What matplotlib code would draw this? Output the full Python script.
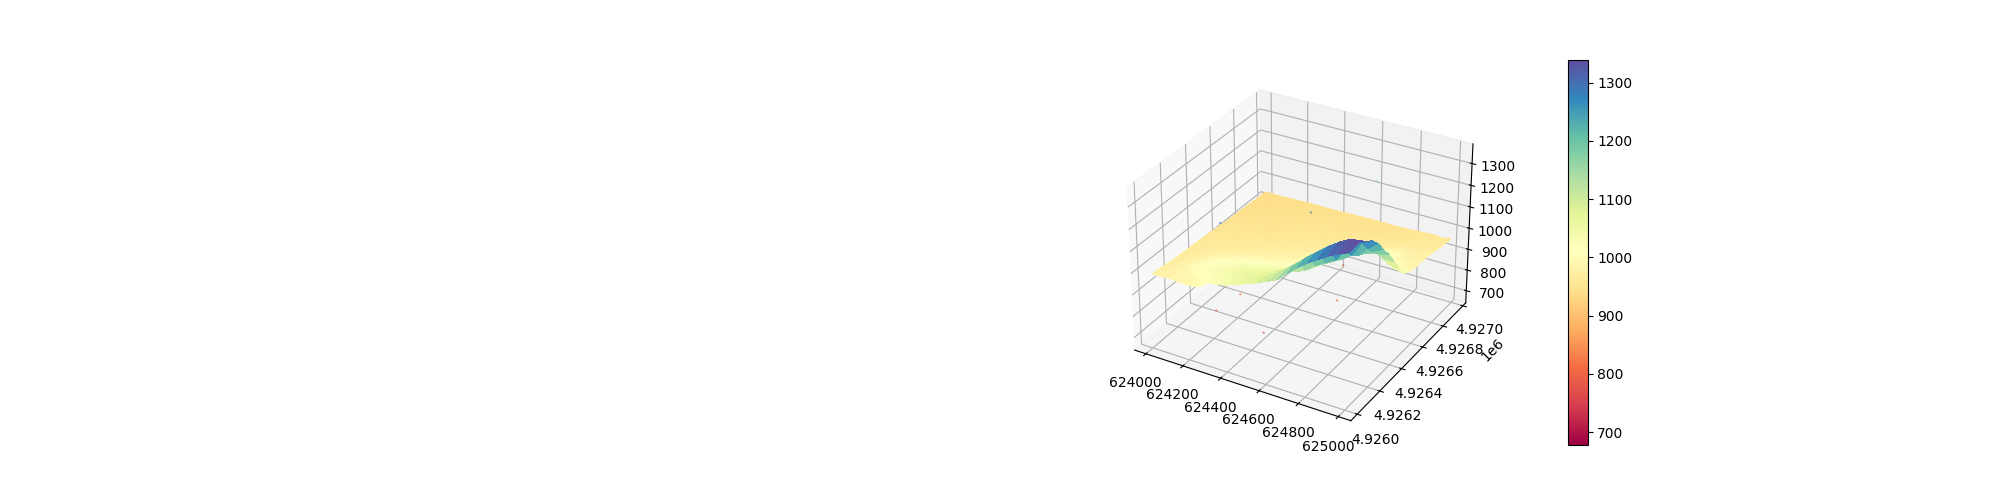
import numpy as np
import matplotlib
matplotlib.use('Agg')
import matplotlib.pyplot as plt

x_values = list(range(624000, 625001, 50))
y_values = list(range(4926020, 4926971, 50))
elevation = [
    [980, 980, 985, 978, 978, 988, 1018, 1022, 1035, 1052, 1068, 1085, 1105, 1125, 1167, 1205, 1238, 1267, 1295, 1317, 1335],
    [977, 981, 987, 993, 1003, 1015, 1027, 1038, 1050, 1060, 1070, 1082, 1100, 1130, 1175, 1215, 1250, 1280, 1310, 1330, 1340],
    [973, 978, 985, 996, 1010, 1020, 1030, 1040, 1048, 1055, 1062, 1075, 1100, 1135, 1170, 1210, 1245, 1280, 1310, 1335, 1340],
    [970, 975, 985, 996, 1008, 1016, 1024, 1032, 1040, 1046, 1052, 1066, 1085, 1090, 1110, 1145, 1170, 1195, 1250, 1300, 1315],
    [967, 971, 979, 990, 1000, 1008, 1015, 1022, 1028, 1033, 1040, 1050, 1063, 1075, 1095, 1125, 1150, 1175, 1205, 1275, 1295],
    [965, 968, 974, 982, 990, 997, 1003, 1009, 1014, 1019, 1024, 1033, 1043, 1060, 1090, 1120, 1145, 1170, 1180, 1225, 1260],
    [963, 965, 969, 975, 980, 985, 991, 996, 1002, 1005, 1010, 1018, 1027, 1043, 1085, 1115, 1135, 1160, 1165, 1190, 1210],
    [961, 963, 965, 969, 973, 977, 981, 985, 989, 993, 997, 1005, 1013, 1027, 1070, 1102, 1128, 1150, 1145, 1155, 1165],
    [959, 960, 963, 965, 967, 970, 975, 979, 983, 985, 989, 995, 1001, 1013, 1050, 1088, 1109, 1131, 1130, 1110, 1110],
    [957, 958, 960, 962, 963, 965, 969, 973, 975, 979, 981, 987, 991, 1000, 1030, 1069, 1090, 1115, 1090, 1060, 1050],
    [955, 956, 957, 958, 960, 962, 965, 967, 970, 973, 975, 980, 983, 990, 1015, 1048, 1072, 1075, 1055, 1018, 1010],
    [953, 953, 954, 955, 957, 959, 961, 963, 965, 967, 969, 973, 975, 980, 1000, 1030, 1050, 1045, 1025, 998, 995],
    [950, 951, 952, 953, 955, 956, 958, 960, 961, 963, 965, 967, 969, 973, 985, 1013, 1026, 1020, 1000, 988, 990],
    [948, 949, 950, 951, 952, 953, 955, 957, 958, 960, 961, 963, 965, 967, 975, 985, 995, 1000, 995, 982, 988],
    [947, 947, 948, 949, 950, 951, 953, 955, 955, 957, 958, 960, 961, 963, 966, 972, 978, 982, 985, 978, 986],
    [945, 945, 946, 947, 948, 949, 950, 952, 953, 954, 955, 957, 958, 959, 960, 964, 968, 972, 976, 974, 982],
    [943, 943, 944, 945, 946, 947, 948, 949, 950, 951, 952, 953, 955, 956, 956, 958, 962, 966, 970, 968, 975],
    [941, 941, 942, 943, 944, 945, 946, 947, 948, 949, 950, 951, 952, 953, 952, 954, 958, 962, 966, 964, 970],
    [940, 940, 941, 942, 943, 944, 945, 945, 946, 947, 948, 949, 950, 951, 950, 952, 955, 958, 962, 960, 965],
    [939, 939, 940, 941, 942, 943, 944, 944, 945, 946, 947, 948, 949, 950, 948, 950, 952, 955, 958, 955, 960],
]
outlier_x = [624235, 624256, 624481, 624667, 624538, 624341, 624655, 624640]
outlier_y = [4926170, 4926338, 4926176, 4926507, 4926787, 4926058, 4926293, 4926912]
outlier_z = [800, 800, 760, 800, 800, 1280, 1300, 1170]

vmin, vmax = 678, 1339

fig = plt.figure(figsize=(20, 5), dpi=100)
ax = fig.add_axes([0.4990, 0.11, 0.3, 0.77], projection='3d')
ax.computed_zorder = False
X, Y = np.meshgrid(x_values, y_values)
Z = np.array(elevation, dtype=float)
ax.plot_surface(X, Y, Z, cmap='Spectral', vmin=vmin, vmax=vmax, linewidth=0,
                antialiased=False, shade=False, rcount=len(y_values), ccount=len(x_values), zorder=1)
ax.scatter(outlier_x, outlier_y, outlier_z, c=outlier_z, cmap='Spectral', vmin=vmin, vmax=vmax,
           s=3, alpha=0.6, linewidths=0, zorder=2)
ax.set_xlim(623938, 625062)
ax.set_ylim(4925945, 4927030)
ax.set_zlim(640.5, 1389.5)
ax.set_xticks(range(624000, 625001, 200))
ax.set_yticks(range(4926000, 4927001, 200))
ax.set_zticks(range(700, 1301, 100))

cax = fig.add_axes([0.784, 0.11, 0.00975, 0.77])
sm = matplotlib.cm.ScalarMappable(norm=matplotlib.colors.Normalize(vmin, vmax), cmap='Spectral')
fig.colorbar(sm, cax=cax, ticks=range(700, 1301, 100))
fig.savefig('out.png', dpi=100)
